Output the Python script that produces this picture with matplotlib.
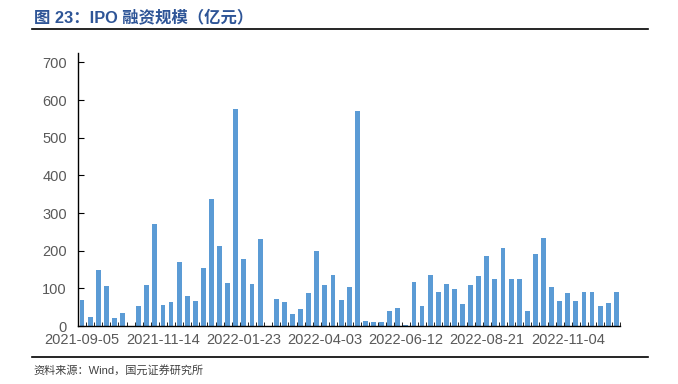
import matplotlib
matplotlib.use("Agg")
import matplotlib.pyplot as plt
import numpy as np

plt.rcParams['font.family'] = ['Liberation Sans', 'Noto Sans CJK SC', 'DejaVu Sans']

# weekly IPO financing (亿元), 67 weeks starting 2021-09-05
values = [70, 23, 148, 107, 20, 34, 0, 52, 109, 272,
          56, 65, 169, 81, 67, 153, 338, 212, 113, 577,
          177, 111, 230, 0, 72, 65, 31, 45, 87, 199,
          109, 135, 68, 104, 570, 12, 10, 10, 41, 48,
          2, 117, 52, 135, 89, 111, 97, 58, 109, 133,
          185, 124, 207, 126, 126, 40, 192, 234, 103, 66,
          87, 67, 90, 90, 53, 60, 91]
tick_pos = [0, 10, 20, 30, 40, 50, 60]
tick_labels = ['2021-09-05', '2021-11-14', '2022-01-23', '2022-04-03',
               '2022-06-12', '2022-08-21', '2022-11-04']

fig = plt.figure(figsize=(6.78, 3.84), dpi=100)
ax = fig.add_axes([0.115, 0.151, 0.800, 0.711])

x = np.arange(len(values))
ax.bar(x, values, width=0.6, color='#5B9BD5')

ax.set_xlim(-0.5, len(values) - 0.5)
ax.set_ylim(0, 725)
ax.set_yticks(range(0, 701, 100))
ax.set_xticks(tick_pos)
ax.set_xticklabels(tick_labels)
ax.set_xticks(np.arange(-0.5, len(values), 1), minor=True)

for s in ['top', 'right']:
    ax.spines[s].set_visible(False)
for s in ['left', 'bottom']:
    ax.spines[s].set_color('black')
    ax.spines[s].set_linewidth(1.0)

ax.tick_params(axis='y', direction='in', length=4, labelsize=10.5, labelcolor='#595959', pad=8)
ax.tick_params(axis='x', which='major', length=0, labelsize=10.5, labelcolor='#595959', pad=5)
ax.tick_params(axis='x', which='minor', direction='in', length=3)

# title and source
fig.text(0.05, 0.955, '图 23：IPO 融资规模（亿元）', fontsize=11.8, fontweight='bold',
         color='#2E5597', va='center', ha='left')
fig.add_artist(plt.Line2D([0.047, 0.956], [0.925, 0.925], color='black', lw=1.2))
fig.add_artist(plt.Line2D([0.047, 0.956], [0.070, 0.070], color='black', lw=1.2))
fig.text(0.05, 0.035, '资料来源：Wind，国元证券研究所', fontsize=8, color='#404040',
         va='center', ha='left')

fig.savefig('out.png', dpi=100)
